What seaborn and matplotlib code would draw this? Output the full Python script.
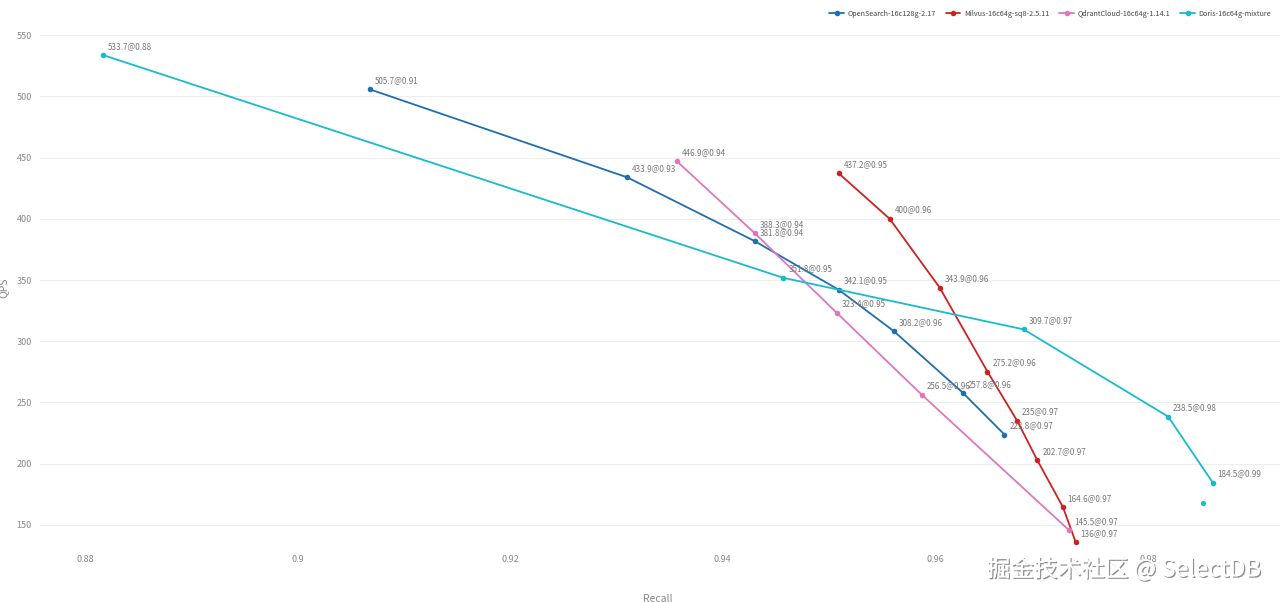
import pandas as pd
import matplotlib.pyplot as plt
import matplotlib.patheffects as pe
from matplotlib import font_manager
import seaborn as sns

# Data
series_names = [
    "OpenSearch-16c128g-2.17",
    "Milvus-16c64g-sq8-2.5.11",
    "QdrantCloud-16c64g-1.14.1",
    "Doris-16c64g-mixture",
]

opensearch_recall = [0.9068, 0.9310, 0.9430, 0.9509, 0.9561, 0.9626, 0.9665]
opensearch_qps = [505.7, 433.9, 381.8, 342.1, 308.2, 257.8, 223.8]

milvus_recall = [0.9509, 0.9557, 0.9604, 0.9649, 0.9677, 0.9696, 0.9720, 0.9732]
milvus_qps = [437.2, 400, 343.9, 275.2, 235, 202.7, 164.6, 136]

qdrant_recall = [0.9357, 0.9430, 0.9507, 0.9587, 0.9726]
qdrant_qps = [446.9, 388.3, 323.4, 256.5, 145.5]

doris_recall = [0.8817, 0.9457, 0.9683, 0.9819, 0.9861]
doris_qps = [533.7, 351.8, 309.7, 238.5, 184.5]

# unconnected Doris point without a label
doris_extra_recall = [0.9852]
doris_extra_qps = [168]

colors = ["#1f6fae", "#cc2222", "#de77c0", "#17bccb"]
x_ticks = [0.88, 0.9, 0.92, 0.94, 0.96, 0.98]
y_ticks = [150, 200, 250, 300, 350, 400, 450, 500, 550]

frames = []
for name, rec, qps in zip(
    series_names,
    [opensearch_recall, milvus_recall, qdrant_recall, doris_recall],
    [opensearch_qps, milvus_qps, qdrant_qps, doris_qps],
):
    frames.append(pd.DataFrame({"Recall": rec, "QPS": qps, "series": name}))
df = pd.concat(frames, ignore_index=True)

sns.set_theme(style="white")
plt.rcParams["font.family"] = ["Noto Sans CJK SC", "DejaVu Sans"]

# narrow font for small labels if present
installed = {f.name for f in font_manager.fontManager.ttflist}
narrow = "Liberation Sans Narrow" if "Liberation Sans Narrow" in installed else "Noto Sans CJK SC"
label_size = 6.6 if narrow == "Liberation Sans Narrow" else 5.8
legend_size = 6.0 if narrow == "Liberation Sans Narrow" else 5.2

fig = plt.figure(figsize=(12.8, 6.02), dpi=100)
ax = fig.add_axes([40 / 1280, 1 - 547 / 602, 1 - 40 / 1280, (547 - 29) / 602])

sns.lineplot(
    data=df,
    x="Recall",
    y="QPS",
    hue="series",
    hue_order=series_names,
    palette=colors,
    sort=False,
    estimator=None,
    marker="o",
    markersize=4,
    markeredgewidth=0,
    linewidth=1.3,
    ax=ax,
)
ax.scatter(doris_extra_recall, doris_extra_qps, s=14, color=colors[3], zorder=3, linewidths=0)

# point labels
for _, row in df.iterrows():
    qps_txt = f"{row['QPS']:g}"
    ax.annotate(
        f"{qps_txt}@{row['Recall']:.2f}",
        (row["Recall"], row["QPS"]),
        xytext=(3.5, 4.5),
        textcoords="offset points",
        fontsize=label_size,
        family=narrow,
        color="#777777",
    )

ax.set_xlim(0.87577, 0.99242)
ax.set_ylim(132, 555)
ax.set_xticks(x_ticks)
ax.set_xticklabels([f"{t:g}" for t in x_ticks])
ax.set_yticks(y_ticks)
ax.tick_params(axis="both", labelsize=6.5, colors="#888888", length=0, pad=6)
ax.grid(axis="y", color="#eeeeee", linewidth=0.8)
ax.grid(axis="x", visible=False)
for s in ax.spines.values():
    s.set_visible(False)

ax.set_xlabel("Recall", fontsize=7.5, color="#888888")
ax.set_ylabel("QPS", fontsize=7.5, color="#888888")
ax.xaxis.set_label_coords((658 - 40) / 1240, -(594 - 547) / 518)
ax.yaxis.set_label_coords((8 - 40) / 1240, 0.5)

leg = ax.legend(
    loc="upper right",
    bbox_to_anchor=(0.998, 1.05),
    ncol=4,
    frameon=False,
    prop={"family": narrow, "size": legend_size},
    handlelength=2.0,
    columnspacing=1.4,
    handletextpad=0.5,
)
for t in leg.get_texts():
    t.set_color("#444444")

fig.text(
    0.985, 0.055, "掘金技术社区 @ SelectDB",
    ha="right", va="center", fontsize=17, color="white",
    path_effects=[pe.withSimplePatchShadow(offset=(1, -1), shadow_rgbFace="#777777", alpha=0.8), pe.Normal()],
)

plt.savefig("out.png", dpi=100)
plt.close()
